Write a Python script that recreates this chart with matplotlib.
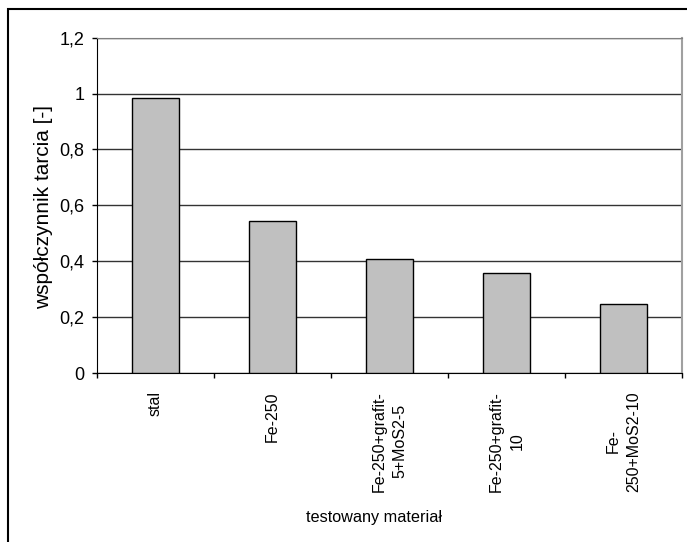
import matplotlib.pyplot as plt
from matplotlib.patches import Rectangle
from matplotlib.ticker import FixedLocator

plt.rcParams['font.family'] = ['Liberation Sans', 'DejaVu Sans']

materials = ['stal', 'Fe-250', 'Fe-250+grafit-\n5+MoS2-5', 'Fe-250+grafit-\n10', 'Fe-\n250+MoS2-10']
friction = [0.985, 0.545, 0.407, 0.359, 0.247]
y_ticks = [0, 0.2, 0.4, 0.6, 0.8, 1.0, 1.2]
y_tick_labels = ['0', '0,2', '0,4', '0,6', '0,8', '1', '1,2']

W, H = 687, 542
fig = plt.figure(figsize=(W / 100, H / 100), dpi=100)
ax = fig.add_axes([97 / W, 1 - 373 / H, (682 - 97) / W, (373 - 37.7) / H])

x = list(range(len(materials)))
ax.bar(x, friction, width=0.4, color='#c0c0c0', edgecolor='black', linewidth=1, zorder=3)

ax.set_xlim(-0.5, len(materials) - 0.5)
ax.set_ylim(0, 1.2)
ax.set_yticks(y_ticks)
ax.set_yticklabels(y_tick_labels, fontsize=13)
ax.yaxis.grid(True, color='#333333', linewidth=1, zorder=0)
ax.tick_params(axis='y', direction='out', length=3.6, width=1, pad=5.5)

ax.set_xticks([])
ax.xaxis.set_minor_locator(FixedLocator([i - 0.5 for i in range(len(materials) + 1)]))
ax.tick_params(axis='x', which='minor', direction='out', length=3.6, width=1)

# category labels, rotated, top-aligned under the axis
for i, lab in enumerate(materials):
    ax.text(i, -18 / 335.3, lab, rotation=90, ha='center', va='top', multialignment='center',
            linespacing=1.5, fontsize=11.5, transform=ax.get_xaxis_transform(), clip_on=False)

ax.spines['left'].set_color('black')
ax.spines['bottom'].set_color('black')
ax.spines['top'].set_color('#808080')
ax.spines['right'].set_color('#a0a0a0')
ax.spines['right'].set_linewidth(1.5)

fig.text(44 / W, 1 - 206.7 / H, 'współczynnik tarcia [-]', rotation=90,
         ha='center', va='center', fontsize=15)
fig.text(374.5 / W, 1 - 522 / H, 'testowany materiał', ha='center', va='baseline', fontsize=11.7)

fig.patches.append(Rectangle((8 / W, -0.1), 1.2, 1.1 - 9 / H, transform=fig.transFigure,
                             fill=False, edgecolor='black', linewidth=1.5))

fig.savefig('out.png', dpi=100)
